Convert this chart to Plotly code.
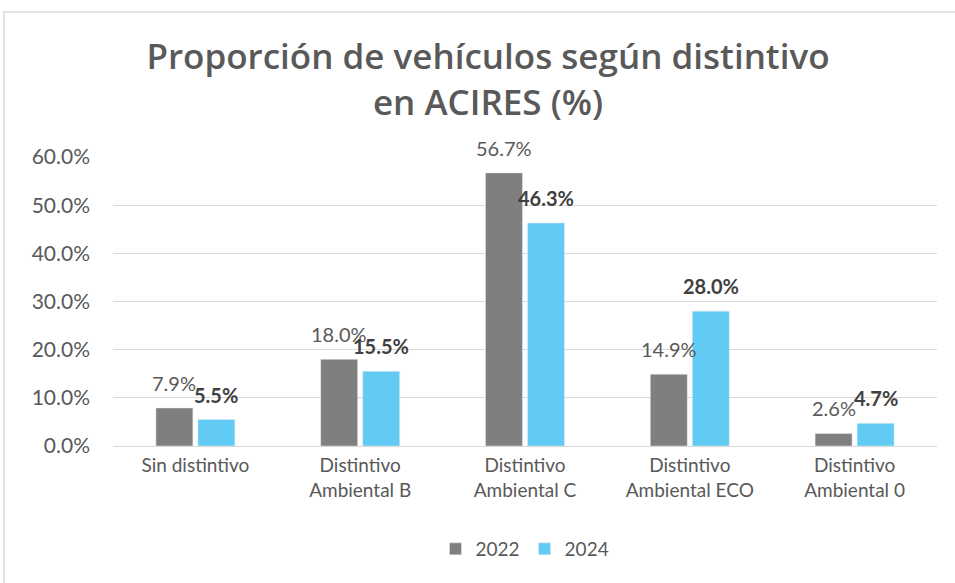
import plotly.graph_objects as go

categories = ["Sin distintivo", "Distintivo<br>Ambiental B", "Distintivo<br>Ambiental C",
              "Distintivo<br>Ambiental ECO", "Distintivo<br>Ambiental 0"]
values_2022 = [7.9, 18.0, 56.7, 14.9, 2.6]
values_2024 = [5.5, 15.5, 46.3, 28.0, 4.7]
series_names = ["2022", "2024"]
y_ticks = [0, 10, 20, 30, 40, 50, 60]

W, H = 955, 583
L, R, T, B = 113, 18, 157, 137
pw, ph = W - L - R, H - T - B

GRAY = "#7f7f7f"
BLUE = "#61CBF3"
TXT = "#595959"
FONT = "Lato, 'DejaVu Sans', sans-serif"

fig = go.Figure()
fig.add_trace(go.Bar(x=categories, y=values_2022, name=series_names[0], marker_color=GRAY))
fig.add_trace(go.Bar(x=categories, y=values_2024, name=series_names[1], marker_color=BLUE))

bargap, bargroupgap = 0.49, 0.12
cat_w = pw / len(categories)
slot = cat_w * (1 - bargap) / 2
offsets = [-slot / 2, slot / 2]

annotations = []
for si, (vals, bold, col) in enumerate([(values_2022, False, TXT), (values_2024, True, "#404040")]):
    for c, v in zip(categories, vals):
        txt = f"{v:.1f}%"
        if bold:
            txt = f"<b>{txt}</b>"
        annotations.append(dict(x=c, y=v, xref="x", yref="y", text=txt, showarrow=False,
                                xanchor="center", yanchor="bottom", xshift=offsets[si], yshift=11,
                                font=dict(family=FONT, size=20, color=col)))

fig.update_layout(
    width=W, height=H,
    margin=dict(l=L, r=R, t=T, b=B, autoexpand=False),
    paper_bgcolor="white", plot_bgcolor="white",
    barmode="group", bargap=bargap, bargroupgap=bargroupgap,
    title=dict(text="Proporción de vehículos según distintivo<br>en ACIRES (%)",
               x=0.511, xref="container", xanchor="center", y=1 - 69 / H, yanchor="middle",
               font=dict(family="'Open Sans', sans-serif", size=35, color=TXT, weight=600)),
    font=dict(family=FONT, color=TXT),
    legend=dict(orientation="h", x=0.5, xanchor="center", y=(446 - 549) / ph, yanchor="middle",
                font=dict(family=FONT, size=19, color=TXT), traceorder="normal"),
    annotations=annotations,
    showlegend=True,
)
fig.update_yaxes(range=[0, 60], tickvals=y_ticks, ticktext=[f"{v:.1f}%" for v in y_ticks],
                 showgrid=True, gridcolor="#d9d9d9", gridwidth=1, zeroline=True,
                 zerolinecolor="#d9d9d9", zerolinewidth=1, showline=False,
                 tickfont=dict(family=FONT, size=21, color=TXT), ticks="", ticklabelstandoff=22)
fig.update_xaxes(showline=False, ticks="", tickfont=dict(family=FONT, size=19, color=TXT),
                 ticklabelstandoff=6)

# chart frame border
fig.add_shape(type="rect", xref="paper", yref="paper",
              x0=(4 - L) / pw, x1=(W + 5 - L) / pw,
              y0=(H - B - (H + 5)) / ph, y1=(H - B - 12) / ph,
              line=dict(color="#d9d9d9", width=1.5), fillcolor="rgba(0,0,0,0)", layer="below")

fig.write_html("out.html", config={"displayModeBar": False},
               post_script="document.body.style.margin='0';")
